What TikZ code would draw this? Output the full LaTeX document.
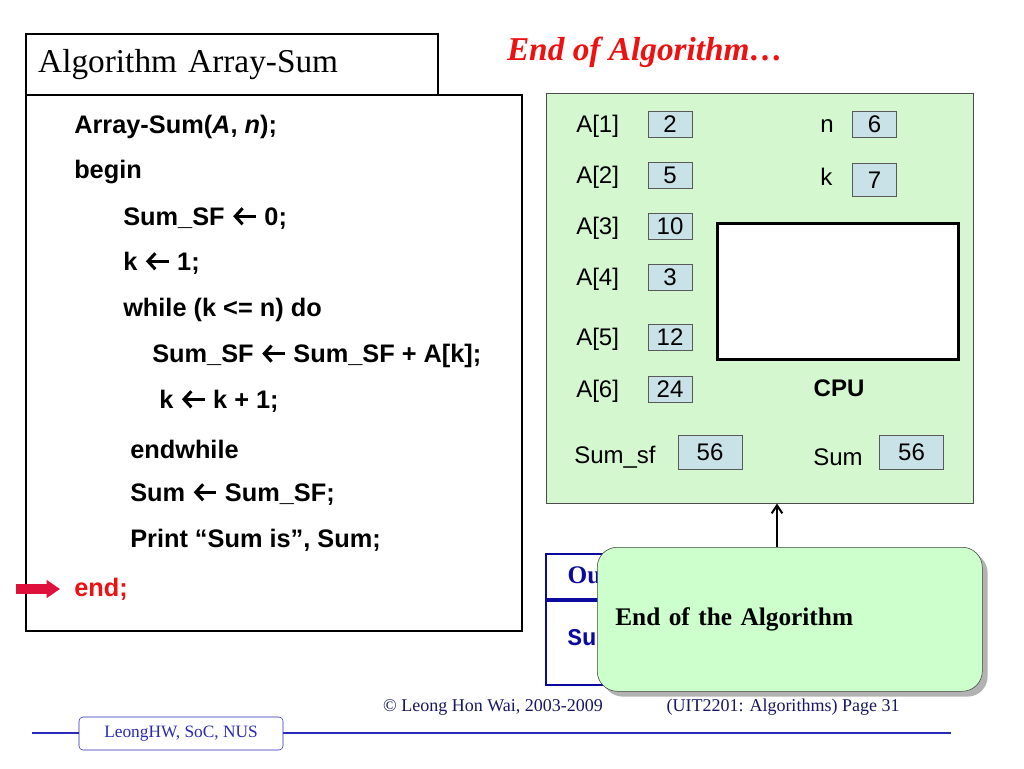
\documentclass[tikz,border=0pt]{standalone}
\usepackage{fontspec}
\setmainfont{Liberation Serif}
\setsansfont{Liberation Sans}
\setmonofont{Liberation Mono}
\usetikzlibrary{shapes.arrows, arrows.meta, positioning, shadows}
\definecolor{MemGreen}{HTML}{D4F7D0}
\definecolor{NoteGreen}{HTML}{CCFFCC}
\definecolor{CellBlue}{HTML}{C9E2E8}
\definecolor{SlideBlue}{HTML}{2A2AB8}
\definecolor{OutBlue}{HTML}{0A0AA0}
\definecolor{EndRed}{HTML}{EE1111}
\definecolor{PtrRed}{HTML}{E0103C}
% assignment arrow of the pseudo code
\newcommand{\larr}{\tikz[baseline=-6.8pt]\draw[line width=2.3pt, {Straight Barb[length=5.5pt, width=12pt, line width=2.3pt]}-] (0pt,0pt) -- (17pt,0pt);}

\begin{document}
\begin{tikzpicture}[x=0.75pt, y=-0.75pt, >={Straight Barb[length=6pt, width=8pt]},
        code/.style={anchor=west, inner sep=0pt, font=\sffamily\bfseries\fontsize{19}{22}\selectfont},
        lbl/.style={anchor=west, inner sep=0pt, text height=12.9pt, text depth=0pt, font=\sffamily\fontsize{18}{20}\selectfont},
        cell/.style={draw=black!65, fill=CellBlue, minimum width=33pt, minimum height=19.5pt, inner sep=0pt, text height=12.9pt, text depth=0pt, font=\sffamily\fontsize{18}{20}\selectfont},
        bigcell/.style={cell, minimum width=48pt, minimum height=25.5pt},
        frame/.style={draw, line width=1.8pt, anchor=north west, inner sep=0pt},
        outbox/.style={draw=OutBlue, line width=1.6pt, anchor=north west, minimum width=120pt, inner sep=0pt},
        foot/.style={font=\fontsize{13.5}{15}\selectfont, text=SlideBlue!55!black}
    ]
    \path[use as bounding box, fill=white] (0,0) rectangle (1024,768);

    % Algorithm box
    \node[frame, minimum width=372pt, minimum height=402pt] (algo) at (25,94) {};
    \node[frame, fill=white, minimum width=309pt, minimum height=45.75pt, text width=291pt, inner xsep=9pt, align=left, font=\fontsize{25}{28}\selectfont] (title) at (25,33) {Algorithm Array-Sum};

    % Code lines
    \node[code] (c1) at (74,127) {Array-Sum(\textit{A}, \textit{n});};
    \node[code] (c2) at (74,172) {begin};
    \node[code] (c3) at (123,218) {Sum\_SF \larr{} 0;};
    \node[code] (c4) at (123,263) {k \larr{} 1;};
    \node[code] (c5) at (123,310) {while (k <= n) do};
    \node[code] (c6) at (152,356) {Sum\_SF \larr{} Sum\_SF + A[k];};
    \node[code] (c7) at (159,401) {k \larr{} k + 1;};
    \node[code] (c8) at (130,449) {endwhile};
    \node[code] (c9) at (130,494) {Sum \larr{} Sum\_SF;};
    \node[code] (c10) at (130,540) {Print “Sum is”, Sum;};
    \node[code, text=EndRed] (c11) at (74,589) {end;};

    % Pointer to current line
    \coordinate (ptrtail) at (16,589);
    \draw[PtrRed, line width=7.5pt, -{Triangle[length=10pt, width=13pt]}] (ptrtail) -- ([xshift=-10.5pt]c11.west);

    % Heading
    \node[text=EndRed, font=\bfseries\itshape\fontsize{25}{30}\selectfont] (head) at (645,52) {End of Algorithm…};

    % Memory panel
    \node[draw=black!70, fill=MemGreen, anchor=north west, minimum width=320.25pt, minimum height=307.5pt, inner sep=0pt] (mem) at (546,93) {};

    \node[lbl] (a1) at (576,124) {A[1]};
    \node[lbl] (a2) at (576,175) {A[2]};
    \node[lbl] (a3) at (576,226) {A[3]};
    \node[lbl] (a4) at (576,277) {A[4]};
    \node[lbl] (a5) at (576,337) {A[5]};
    \node[lbl] (a6) at (576,389) {A[6]};
    \node[cell] (v1) at (670,124) {2};
    \node[cell] (v2) at (670,175) {5};
    \node[cell] (v3) at (670,226) {10};
    \node[cell] (v4) at (670,277) {3};
    \node[cell] (v5) at (670,337) {12};
    \node[cell] (v6) at (670,389) {24};

    \node[lbl] (nlbl) at (820,124) {n};
    \node[cell] (nval) at (874.5,124) {6};
    \node[lbl] (klbl) at (820,177) {k};
    \node[cell, minimum height=24.75pt] (kval) at (874.5,179.5) {7};

    % CPU
    \node[frame, line width=2.4pt, fill=white, minimum width=180.75pt, minimum height=102pt] (cpu) at (716,222) {};
    \node[font=\sffamily\bfseries\fontsize{18}{20}\selectfont] (cpulbl) at (839,388) {CPU};

    \node[lbl] (sflbl) at (574,455) {Sum\_sf};
    \node[bigcell] (sfval) at (710,452) {56};
    \node[lbl] (sumlbl) at (813,457) {Sum};
    \node[bigcell] (sumval) at (911.5,452) {56};

    % Output box (behind the note)
    \node[outbox, minimum height=33.75pt] (outhead) at (545,553) {};
    \node[outbox, minimum height=63pt] (outbody) at (outhead.south west) {};
    \node[anchor=west, text=OutBlue, font=\bfseries\fontsize{19}{22}\selectfont] (outlbl) at (563,575) {Ou};
    \node[anchor=west, text=OutBlue, font=\ttfamily\bfseries\fontsize{18}{20}\selectfont] (outval) at (563,638) {Su};

    % Note
    \node[draw=black!75, fill=NoteGreen, rounded corners=15pt, anchor=north west, minimum width=288.75pt, minimum height=108pt, text width=261.75pt, inner xsep=13.5pt, align=left, font=\bfseries\fontsize{19}{22}\selectfont, drop shadow={shadow xshift=4pt, shadow yshift=-4pt, fill=black!50, opacity=0.6}] (note) at (597,547) {End of the Algorithm};

    \coordinate (noteTop) at (777,547);
    \draw[->, line width=1.5pt] (noteTop) -- (noteTop |- mem.south);

    % Footer
    \coordinate (footL) at (32,733);
    \coordinate (footR) at (951,733);
    \draw[SlideBlue, line width=1.2pt] (footL) -- (footR);
    \node[draw=SlideBlue, fill=white, rounded corners=3pt, minimum width=153pt, minimum height=24.75pt, font=\fontsize{13}{15}\selectfont, text=SlideBlue] (org) at (181,733.5) {LeongHW, SoC, NUS};
    \node[foot] (copy) at (493,707) {© Leong Hon Wai, 2003-2009};
    \node[foot] (page) at (783,707) {(UIT2201: Algorithms) Page 31};
\end{tikzpicture}
\end{document}
